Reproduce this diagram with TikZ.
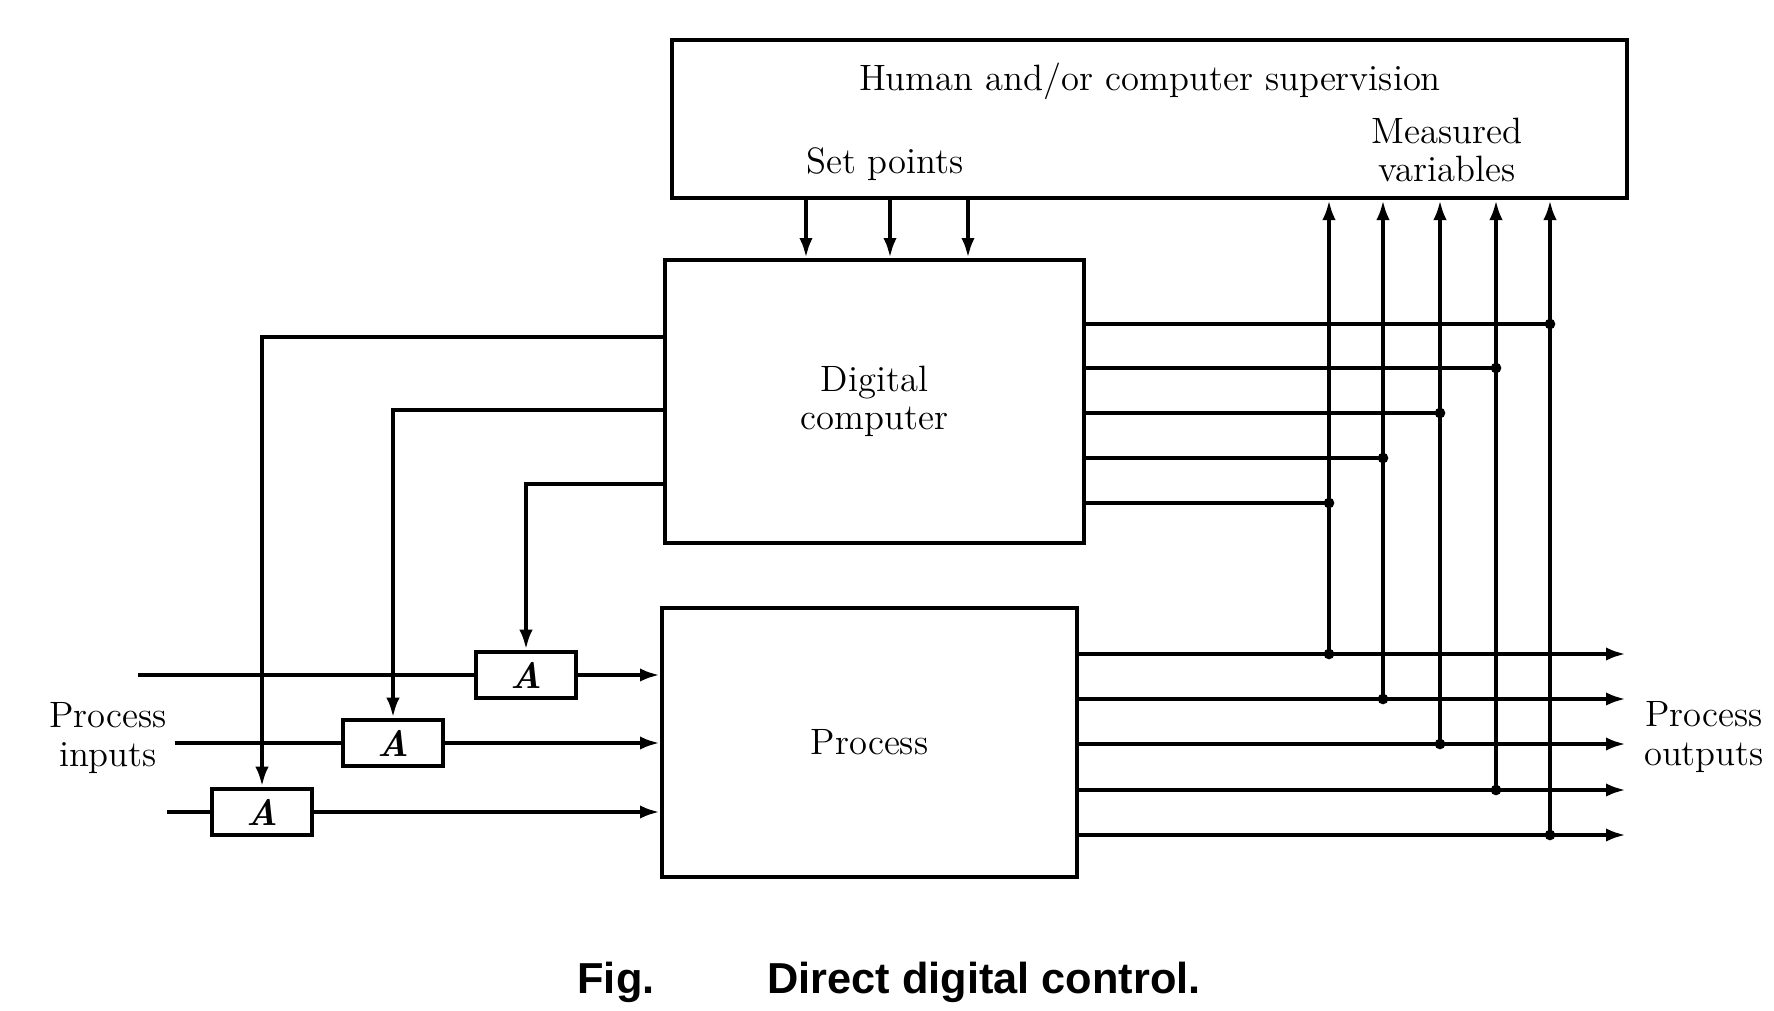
\documentclass[tikz,border=0pt]{standalone}
\usepackage{fontspec}
\newfontfamily\figcapfont{Liberation Sans}
\usetikzlibrary{arrows.meta,positioning,calc}

\begin{document}
\begin{tikzpicture}[x=0.3pt, y=-0.3pt,
    line width=1.2pt,
    font=\fontsize{11}{11.5}\selectfont,
    block/.style={draw, line width=1.2pt, inner sep=0pt},
    amp/.style={draw, line width=1.2pt, minimum width=30pt, minimum height=14pt, inner sep=0pt},
    sig/.style={-{Latex[length=6pt,width=4pt]}},
    jdot/.style={circle, fill, inner sep=0pt, minimum size=3.2pt},
    captxt/.style={font=\figcapfont\bfseries\fontsize{13}{15}\selectfont}]
    \useasboundingbox (0,0) rectangle (1774,1011);

    % Blocks
    \node[block, minimum width=286.5pt, minimum height=47.4pt] (sup) at (1149.5,119) {};
    \node[block, minimum width=125.7pt, minimum height=84.9pt, align=center] (dc) at (874.5,401.5) {Digital\\computer};
    \node[block, minimum width=124.5pt, minimum height=80.7pt] (proc) at (869.5,742.5) {Process};

    % Labels
    \node (suptxt) at (1150,81) {Human and/or computer supervision};
    \node (setpts) at (885,164) {Set points};
    \node[align=center] (meas) at (1447,150) {Measured\\variables};
    \node[align=center] (pout) at (1704,737) {Process\\outputs};
    \node[align=center] (pin) at (108,738) {Process\\inputs};

    % Set points
    \foreach \x [count=\i] in {806,890,968} {
        \coordinate (sp\i) at (\x,0);
        \draw[sig] (sup.south -| sp\i) -- (dc.north -| sp\i);
    }

    % Outputs and measured variables
    \foreach \x/\yp/\yd [count=\i] in {1329/654/503, 1383/699/458, 1440/744/413, 1496/790/368, 1550/835/324} {
        \coordinate (mv\i) at (\x,\yp);
        \coordinate (dj\i) at (\x,\yd);
        \coordinate (po\i) at (1626,\yp);
        \draw[sig] (proc.east |- mv\i) -- (po\i);
        \draw[sig] (mv\i) -- (sup.south -| mv\i);
        \draw (dc.east |- dj\i) -- (dj\i);
        \node[jdot] at (mv\i) {};
        \node[jdot] at (dj\i) {};
    }

    % Inputs through the A units
    \foreach \x/\yd/\ya/\xs [count=\i] in {526/484/675/138, 393/410/743/175, 262/337/812/167} {
        \node[amp] (a\i) at (\x,\ya) {\textbf{\textit{A}}};
        \coordinate (in\i) at (\xs,\ya);
        \coordinate (ci\i) at (\x,\yd);
        \draw (in\i) -- (a\i.west);
        \draw[sig] (a\i.east) -- (proc.west |- a\i);
        \draw[sig] (dc.west |- ci\i) -- (ci\i) -- (a\i.north);
    }

    % Caption
    \node[captxt] (fig) at (616,982) {Fig.};
    \node[captxt] (cap) at (984,982) {Direct digital control.};
\end{tikzpicture}
\end{document}
